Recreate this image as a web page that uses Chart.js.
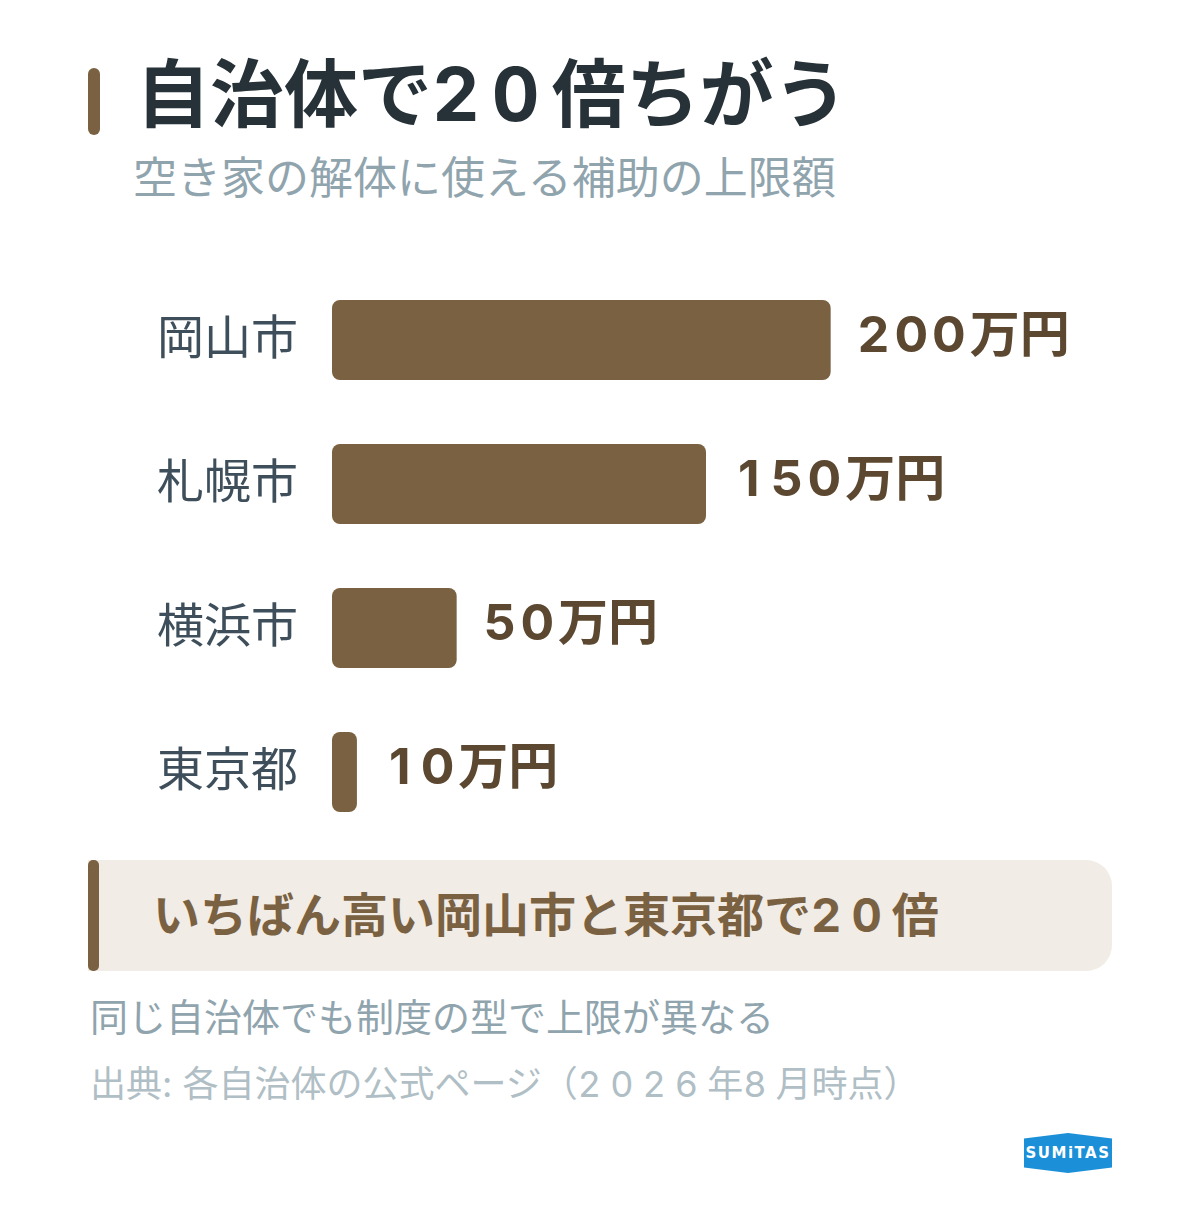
<!DOCTYPE html>
<html lang="ja">
<head>
<meta charset="utf-8">
<script src="https://cdn.jsdelivr.net/npm/chart.js@4.4.1/dist/chart.umd.min.js"></script>
<style>
  html, body { margin: 0; padding: 0; background: #fff; }
  body { width: 1200px; height: 1206px; position: relative; overflow: hidden;
    font-family: Inter, "Noto Sans CJK JP", sans-serif; }
  .n { font-variant-numeric: tabular-nums; }
  .accent { position: absolute; left: 88px; top: 68px; width: 12px; height: 67px; background: #7a6142; border-radius: 6px; }
  .title { position: absolute; left: 136px; top: 46px; font-size: 74px; font-weight: 700; color: #263238; line-height: 1.3; white-space: nowrap; }
  .title .n { letter-spacing: 12px; }
  .subtitle { position: absolute; left: 133px; top: 150px; font-size: 44px; color: #90a4ae; line-height: 1.3; white-space: nowrap; }
  #wrap { position: absolute; left: 0; top: 240px; width: 1200px; height: 620px; }
  .callout { position: absolute; left: 88px; top: 860px; width: 1024px; height: 111px; background: #f1ece5; border-radius: 0 26px 26px 0; }
  .callout .bar { position: absolute; left: 0; top: 0; width: 11px; height: 111px; background: #7a6142; border-radius: 5px; }
  .callout .txt { position: absolute; left: 65px; top: 24px; font-size: 47px; font-weight: 700; color: #7a6142; line-height: 1.3; white-space: nowrap; }
  .callout .n { letter-spacing: 10px; }
  .note { position: absolute; left: 90px; top: 993px; font-size: 38px; color: #90a4ae; line-height: 1.3; white-space: nowrap; }
  .source { position: absolute; left: 90px; top: 1061px; font-size: 36px; color: #b0bec5; line-height: 1.3; white-space: nowrap; }
  .source .n { letter-spacing: 9px; }
  .logo { position: absolute; left: 1024px; top: 1133px; width: 88px; height: 40px; background: #1b8fd8;
    clip-path: polygon(0 14%, 50% 0, 100% 14%, 100% 86%, 50% 100%, 0 86%);
    color: #fff; font-family: "DejaVu Sans", sans-serif; font-weight: 700; font-size: 15px; letter-spacing: 1.5px;
    text-align: center; line-height: 40px; }
</style>
</head>
<body>
<div class="accent"></div>
<div class="title">自治体で<span class="n">20</span>倍ちがう</div>
<div class="subtitle">空き家の解体に使える補助の上限額</div>
<div id="wrap"><canvas id="chart" width="1200" height="620"></canvas></div>
<div class="callout"><div class="bar"></div><div class="txt">いちばん高い岡山市と東京都で<span class="n">20</span>倍</div></div>
<div class="note">同じ自治体でも制度の型で上限が異なる</div>
<div class="source">出典: 各自治体の公式ページ（<span class="n">2026</span>年<span class="n">8</span>月時点）</div>
<div class="logo">SUMiTAS</div>

<script>
// data (万円)
var cities = ["岡山市", "札幌市", "横浜市", "東京都"];
var limits = [200, 150, 50, 10];
var unit = "万円";

// draw city names and value labels next to bars
var labelPlugin = {
  id: "barLabels",
  afterDatasetsDraw: function (chart) {
    var ctx = chart.ctx;
    var meta = chart.getDatasetMeta(0);
    var yScale = chart.scales.y;
    ctx.save();
    ctx.textBaseline = "middle";
    for (var i = 0; i < cities.length; i++) {
      var y = yScale.getPixelForValue(i);
      ctx.font = "400 47px Inter, 'Noto Sans CJK JP'";
      ctx.fillStyle = "#3e4f5b";
      ctx.textAlign = "right";
      ctx.fillText(cities[i], 298, y);
      // value: fixed-width digit cells, then unit
      ctx.font = "700 50px Inter, 'Noto Sans CJK JP'";
      ctx.fillStyle = "#5c4830";
      ctx.textAlign = "center";
      var cell = ctx.measureText("0").width + 4;
      var x = meta.data[i].x + 26;
      var s = String(limits[i]);
      for (var k = 0; k < s.length; k++) {
        ctx.fillText(s[k], x + cell / 2 - 2, y - 3);
        x += cell;
      }
      ctx.textAlign = "left";
      ctx.fillText(unit, x, y - 3);
    }
    ctx.restore();
  }
};

new Chart(document.getElementById("chart"), {
  type: "bar",
  data: {
    labels: cities,
    datasets: [{
      data: limits,
      backgroundColor: "#7a6142",
      borderRadius: 8,
      borderSkipped: false,
      barPercentage: 1,
      categoryPercentage: 0.556
    }]
  },
  options: {
    indexAxis: "y",
    responsive: false,
    animation: false,
    layout: { padding: { left: 332, right: 120, top: 28, bottom: 16 } },
    scales: {
      x: { display: false, min: 0, max: 300 },
      y: { display: false }
    },
    plugins: { legend: { display: false }, tooltip: { enabled: false } }
  },
  plugins: [labelPlugin]
});
</script>
</body>
</html>
